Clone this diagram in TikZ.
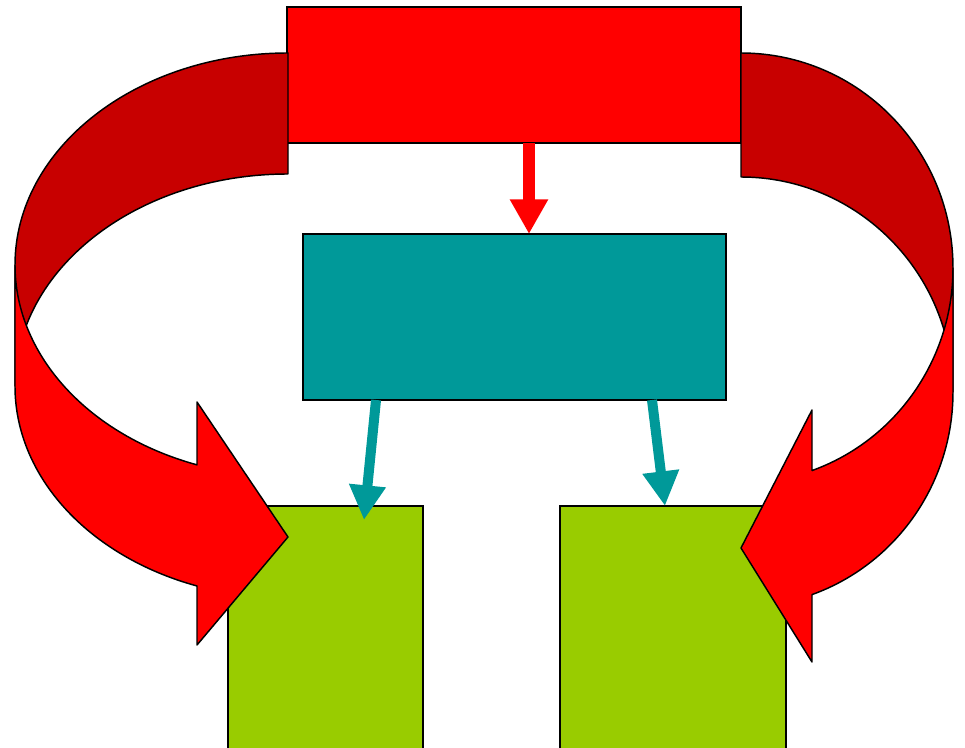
\documentclass[tikz,border=0pt]{standalone}
\usepackage{tikz}
\usetikzlibrary{arrows.meta, positioning, calc}
\definecolor{boxred}{RGB}{255,0,0}
\definecolor{bandred}{RGB}{200,0,0}
\definecolor{boxteal}{RGB}{0,153,153}
\definecolor{boxgreen}{RGB}{153,204,0}

\begin{document}
\begin{tikzpicture}[x=0.75pt, y=-0.75pt,
  box/.style={draw=black, line width=1.1pt, inner sep=0pt, outer sep=0pt},
  band/.style={draw=black, line width=1.1pt, line join=round},
  tealarrow/.style={boxteal, line width=7.5pt, -{Triangle[width=26pt, length=26pt]}},
  redarrow/.style={boxred, line width=9pt, -{Triangle[width=27pt, length=26pt]}}]
  \useasboundingbox (0,0) rectangle (965,748);

  \node[box, fill=boxred, minimum width=340.5pt, minimum height=102pt] (top) at (514,75) {};
  \node[box, fill=boxteal, minimum width=317.25pt, minimum height=124.5pt] (mid) at (514.5,317) {};
  \node[box, fill=boxgreen, minimum width=146.25pt, minimum height=184.5pt] (lbox) at (325.5,629) {};
  \node[box, fill=boxgreen, minimum width=169.5pt, minimum height=184.5pt] (rbox) at (673,629) {};

  % left curved arrow
  \filldraw[band, fill=bandred] (288,53) arc[start angle=270, end angle=180, x radius=273, y radius=212]
    -- (15,386) arc[start angle=180, end angle=270, x radius=273, y radius=212] -- cycle;
  \filldraw[band, fill=boxred] (15,265) arc[start angle=180, end angle=109.47, x radius=273, y radius=212]
    -- (197,402) -- (288,537) -- (197,645) -- (197,586)
    arc[start angle=109.47, end angle=180, x radius=273, y radius=212] -- cycle;

  % right curved arrow
  \filldraw[band, fill=bandred] (741,53) arc[start angle=270, end angle=360, x radius=212, y radius=215]
    -- (953,392) arc[start angle=0, end angle=-90, x radius=212, y radius=215] -- cycle;
  \filldraw[band, fill=boxred] (953,268) arc[start angle=0, end angle=70.43, x radius=212, y radius=215]
    -- (812,410) -- (741,548) -- (812,662) -- (812,594.6)
    arc[start angle=70.43, end angle=0, x radius=212, y radius=215] -- cycle;

  \draw[redarrow] ($(top.south)+(15,0)$) -- ($(mid.north)+(14.5,0)$);
  \draw[tealarrow] ($(mid.south west)+(73,0)$) -- ($(lbox.north)+(38.5,14)$);
  \draw[tealarrow] ($(mid.south west)+(349,0)$) -- ($(rbox.north)+(-8,0)$);
\end{tikzpicture}
\end{document}
